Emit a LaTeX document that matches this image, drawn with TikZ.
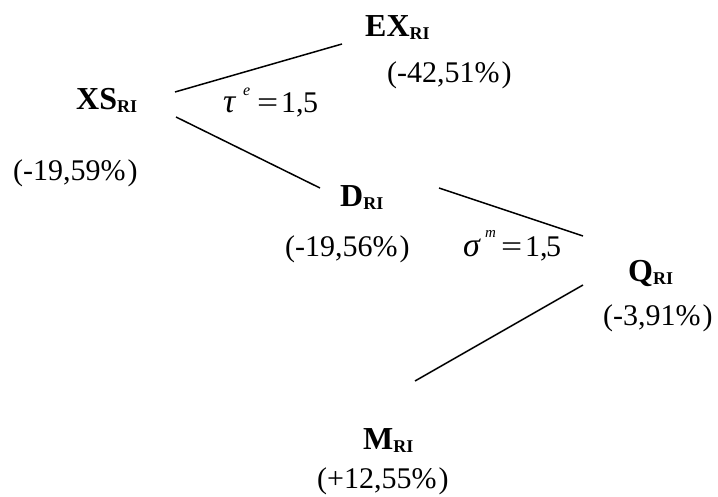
\documentclass[tikz,border=0pt]{standalone}
\usepackage{graphicx}
\usepackage{fontspec}
\setmainfont{Liberation Serif}
\newcommand\risub{\raisebox{-3pt}{\fontsize{18}{20}\selectfont RI}}
\newcommand\gl[2]{\makebox[#1][l]{#2}}
\begin{document}
\begin{tikzpicture}[x=1pt,y=-1pt,
  lbl/.style={font=\fontsize{32}{36}\selectfont\bfseries, inner sep=0pt, anchor=base west},
  pct/.style={font=\fontsize{30}{36}\selectfont, inner sep=0pt, anchor=base west},
  eq/.style={font=\fontsize{30}{36}\selectfont, inner sep=0pt, anchor=base west},
  conn/.style={line width=1.5pt}]
\useasboundingbox (0,0) rectangle (718,497);
% labels
\node[lbl] (xs) at (76,110) {XS\risub};
\node[lbl] (ex) at (365,37) {EX\risub};
\node[lbl] (d) at (340,207) {D\risub};
\node[lbl] (q) at (628,282) {Q\risub};
\node[lbl] (m) at (363,449) {M\risub};
% percentages
\node[pct] (pxs) at (13,181) {(-19,59\%\hspace{2pt})};
\node[pct] (pex) at (387,83) {(-42,51\%\hspace{2pt})};
\node[pct] (pd) at (285,257) {(-19,56\%\hspace{2pt})};
\node[pct] (pq) at (603,326) {(-3,91\%\hspace{2pt})};
\node[pct] (pm) at (317,488) {(+12,55\%\hspace{2pt})};
% elasticities
\node[eq] (tau) at (223,113) {\gl{20pt}{\fontsize{34}{36}\selectfont\itshape τ}\raisebox{17pt}{\gl{14pt}{\fontsize{16}{17}\selectfont\itshape e}}\gl{24pt}{\scalebox{1.25}[1]{=}}\gl{22pt}{1,}5};
\node[eq] (sigma) at (463,257) {\gl{22pt}{\fontsize{34}{36}\selectfont\itshape σ}\raisebox{19pt}{\gl{16pt}{\fontsize{15}{16}\selectfont\itshape m}}\gl{24pt}{\scalebox{1.25}[1]{=}}\gl{21pt}{1,}5};
% connector end points
\coordinate (xs-up) at (175,92);
\coordinate (ex-in) at (342,44);
\coordinate (xs-dn) at (176,117);
\coordinate (d-in) at (320,188);
\coordinate (d-out) at (439,188);
\coordinate (q-in) at (583,236);
\coordinate (q-out) at (583,285);
\coordinate (m-in) at (415,381);
\draw[conn] (xs-up) -- (ex-in);
\draw[conn] (xs-dn) -- (d-in);
\draw[conn] (d-out) -- (q-in);
\draw[conn] (q-out) -- (m-in);
\end{tikzpicture}
\end{document}
